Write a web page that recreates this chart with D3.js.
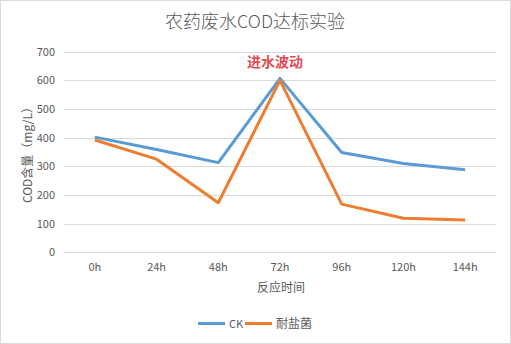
<!DOCTYPE html>
<html><head><meta charset="utf-8">
<script src="https://cdn.jsdelivr.net/npm/d3@7"></script>
<style>body{margin:0;background:#fff;font-family:"Noto Sans CJK SC","Microsoft YaHei",sans-serif;}</style>
</head><body><svg id="c" width="511" height="344"></svg>
<script>
const categories = ["0h","24h","48h","72h","96h","120h","144h"];
const ckValues = [402, 359, 313, 607, 348, 310, 288];
const saltValues = [392, 325, 173, 600, 168, 119, 113];
const yTicks = [0,100,200,300,400,500,600,700];
const seriesNames = ["CK","耐盐菌"];
const colors = ["#5B9BD5","#ED7D31"];

(function(){
const svg = d3.select("#c");
svg.append("rect").attr("x",0.5).attr("y",0.5).attr("width",510).attr("height",343)
  .attr("fill","#fff").attr("stroke","#d9d9d9");

const pl=64, pr=496, pt=51.7, pb=252.3;
const x = d3.scaleBand().domain(categories).range([pl,pr]);
const y = d3.scaleLinear().domain([0,700]).range([pb,pt]);

svg.append("g").selectAll("line").data(yTicks).join("line")
  .attr("x1",pl).attr("x2",pr).attr("y1",d=>Math.round(y(d))+0.5).attr("y2",d=>Math.round(y(d))+0.5)
  .attr("stroke","#d9d9d9").attr("stroke-width",1);

const yAxis = svg.append("g").attr("transform",`translate(${pl},0)`)
  .call(d3.axisLeft(y).tickValues(yTicks).tickSize(0).tickPadding(9));
yAxis.select(".domain").remove();
yAxis.selectAll("text").attr("fill","#595959").style("font-size","11px").style("font-family","'Noto Sans CJK SC',sans-serif");

const xAxis = svg.append("g").attr("transform",`translate(0,${pb})`)
  .call(d3.axisBottom(x).tickSize(0).tickPadding(11));
xAxis.select(".domain").remove();
xAxis.selectAll("text").attr("fill","#595959").style("font-size","11px").style("font-family","'Noto Sans CJK SC',sans-serif");

const line = d3.line().x((d,i)=>x(categories[i])+x.bandwidth()/2).y(d=>y(d));
[ckValues, saltValues].forEach((vals,i)=>{
  svg.append("path").datum(vals).attr("d",line).attr("fill","none")
    .attr("stroke",colors[i]).attr("stroke-width",3).attr("stroke-linejoin","round");
});

svg.append("text").attr("x",255).attr("y",28).attr("text-anchor","middle")
  .attr("fill","#595959").style("font-size","18px").style("font-weight","300").text("农药废水COD达标实验");

svg.append("text").attr("x",x("72h")+x.bandwidth()/2-5).attr("y",67).attr("text-anchor","middle")
  .attr("fill","#E04A50").style("font-size","14px").style("font-weight","bold").text("进水波动");

svg.append("text").attr("transform",`translate(32,${(pt+pb)/2}) rotate(-90)`).attr("text-anchor","middle")
  .attr("fill","#595959").style("font-size","12px").text("COD含量（mg/L）");

svg.append("text").attr("x",281).attr("y",292).attr("text-anchor","middle")
  .attr("fill","#595959").style("font-size","12px").text("反应时间");

const lg = [198,245];
seriesNames.forEach((n,i)=>{
  svg.append("line").attr("x1",lg[i]).attr("x2",lg[i]+27).attr("y1",323.5).attr("y2",323.5)
    .attr("stroke",colors[i]).attr("stroke-width",3);
  svg.append("text").attr("x",lg[i]+31).attr("y",328).attr("fill","#595959")
    .style("font-size",i==0?"11px":"12px").text(n);
});
})();
</script></body></html>
